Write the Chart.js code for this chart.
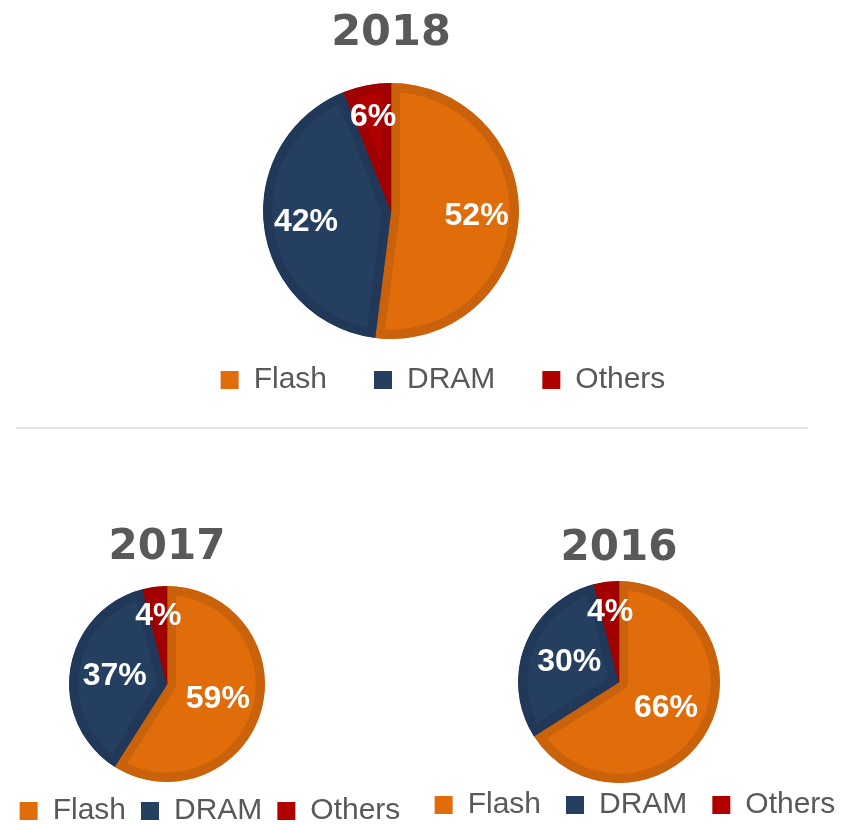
<!DOCTYPE html>
<html>
<head>
<meta charset="utf-8">
<script src="https://cdn.jsdelivr.net/npm/chart.js@4.4.1/dist/chart.umd.min.js"></script>
<style>
  html, body { margin: 0; padding: 0; background: #fff; overflow: hidden; }
  body { width: 841px; height: 825px; position: relative; }
  .box { position: absolute; }
  .rule { position: absolute; left: 16px; top: 427px; width: 792px; border-top: 2px solid #e2e2e2; }
</style>
</head>
<body>
<div class="box" style="left:158px;top:0;width:570px;height:405px"><canvas id="pie2018"></canvas></div>
<div class="rule"></div>
<div class="box" style="left:0;top:500px;width:420px;height:336px"><canvas id="pie2017"></canvas></div>
<div class="box" style="left:405px;top:500px;width:460px;height:330px"><canvas id="pie2016"></canvas></div>

<script>
const categories = ['Flash', 'DRAM', 'Others'];
const share2018 = [52, 42, 6];
const share2017 = [59, 37, 4];
const share2016 = [66, 30, 4];

const fillColors = ['#e06c0a', '#243f60', '#b00000'];
const edgeColors = ['#c9620b', '#213858', '#a00000'];
const textGrey = '#595959';

// white % labels inside each slice
const sliceLabels = {
  id: 'sliceLabels',
  afterDatasetsDraw(chart, args, opts) {
    const ctx = chart.ctx;
    const values = chart.data.datasets[0].data;
    ctx.save();
    ctx.font = 'bold 32px "Liberation Sans", Arial, sans-serif';
    ctx.fillStyle = '#fff';
    ctx.textAlign = 'center';
    ctx.textBaseline = 'middle';
    chart.getDatasetMeta(0).data.forEach((arc, i) => {
      const p = arc.getProps(['x', 'y', 'startAngle', 'endAngle', 'outerRadius'], true);
      const mid = (p.startAngle + p.endAngle) / 2;
      const f = values[i] < 10 ? opts.smallRadius : opts.radius;
      ctx.fillText(values[i] + '%', p.x + Math.cos(mid) * p.outerRadius * f, p.y + Math.sin(mid) * p.outerRadius * f);
    });
    ctx.restore();
  }
};

function makePie(id, year, values, cfg) {
  const ctx = document.getElementById(id).getContext('2d');
  return new Chart(ctx, {
    type: 'pie',
    data: {
      labels: categories,
      datasets: [{
        data: values,
        backgroundColor: fillColors,
        borderColor: edgeColors,
        borderWidth: 9,
        borderAlign: 'inner',
        radius: cfg.radius,
        hoverOffset: 0,
        clip: false,
      }],
    },
    plugins: [sliceLabels],
    options: {
      responsive: true,
      maintainAspectRatio: false,
      animation: false,
      layout: { padding: 0 },
      plugins: {
        tooltip: { enabled: false },
        title: {
          display: true,
          text: year,
          fullSize: false,
          color: textGrey,
          font: { family: '"DejaVu Sans", Verdana, sans-serif', size: cfg.titleSize, weight: 'bold', lineHeight: 1.2 },
          padding: cfg.titlePad,
        },
        // empty spacer on the right so the pie sits left of the legend centre
        subtitle: {
          display: true,
          text: ' ',
          position: 'right',
          fullSize: false,
          font: { size: 2, lineHeight: 1 },
          padding: { top: cfg.spacer - 2, bottom: 0 },
        },
        legend: {
          display: true,
          position: 'bottom',
          align: 'center',
          fullSize: true,
          labels: {
            boxWidth: 18,
            boxHeight: 18,
            padding: cfg.legendPad,
            color: textGrey,
            font: { family: '"Liberation Sans", Arial, sans-serif', size: 30 },
            generateLabels: chart => chart.data.labels.map((text, i) => ({
              text: text,
              fillStyle: fillColors[i],
              strokeStyle: fillColors[i],
              lineWidth: 0,
              hidden: false,
              index: i,
              fontColor: textGrey,
            })),
          },
        },
        sliceLabels: { radius: cfg.labelR, smallRadius: cfg.smallR },
      },
    },
  });
}

makePie('pie2018', '2018', share2018, {
  radius: 128, titleSize: 43, titlePad: { top: 8, bottom: 44.4 },
  spacer: 104, legendPad: 47, labelR: 0.67, smallR: 0.75,
});
makePie('pie2017', '2017', share2017, {
  radius: 98, titleSize: 42, titlePad: { top: 23, bottom: 13.6 },
  spacer: 86, legendPad: 15, labelR: 0.54, smallR: 0.70,
});
makePie('pie2016', '2016', share2016, {
  radius: 101, titleSize: 42, titlePad: { top: 24, bottom: 24.6 },
  spacer: 32, legendPad: 25, labelR: 0.53, smallR: 0.70,
});
</script>
</body>
</html>
